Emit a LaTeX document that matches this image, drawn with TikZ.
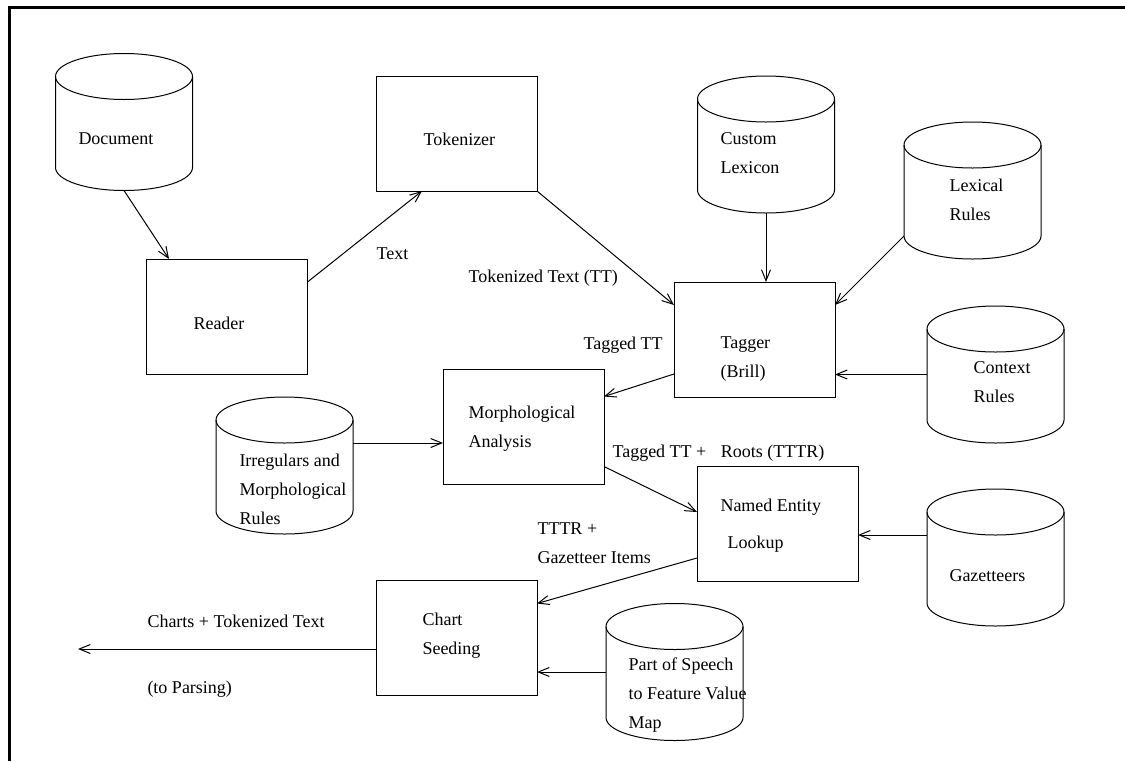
\documentclass[tikz,border=0pt]{standalone}
\usepackage{fontspec}
\setmainfont{Liberation Serif}
\usetikzlibrary{arrows.meta,calc}

\tikzset{
	proc/.style={draw, rectangle, minimum width=80.5pt, minimum height=57.5pt, inner sep=0pt, outer sep=0pt},
	store/.style={rectangle, minimum width=68.5pt, minimum height=68.5pt, inner sep=0pt, outer sep=0pt},
	txt/.style={anchor=west, align=left, inner sep=0pt, font=\fontsize{9}{14.5}\selectfont},
	flow/.style={-{Straight Barb[length=5.5pt,width=4.5pt]}},
}
\newcommand{\drum}[1]{%
	\draw ([yshift=-11.5pt]#1.north west) -- ([yshift=11.5pt]#1.south west)
	arc[start angle=180, end angle=360, x radius=34.25pt, y radius=11.5pt]
	-- ([yshift=-11.5pt]#1.north east);
	\draw ([yshift=-11.5pt]#1.north) ellipse[x radius=34.25pt, y radius=11.5pt];}

\begin{document}
\begin{tikzpicture}[x=0.5pt,y=-0.5pt,line width=0.5pt]
	\useasboundingbox (0,0) rectangle (1125,761);
	\draw[line width=1.6pt] (9.5,761) -- (9.5,7.5) -- (1125,7.5);
	
	\node[store] at (124,122) (doc) {};
	\node[proc] at (227,316.5) (reader) {};
	\node[proc] at (456.5,133.5) (tok) {};
	\node[store] at (766,144.5) (cust) {};
	\node[store] at (972.5,190.5) (lex) {};
	\node[proc] at (754.5,339.5) (tagger) {};
	\node[store] at (995.5,374.5) (ctx) {};
	\node[proc] at (523.5,427) (morph) {};
	\node[store] at (284.5,465.5) (irr) {};
	\node[proc] at (777.5,523.5) (ne) {};
	\node[store] at (995.5,557.5) (gaz) {};
	\node[proc] at (456.5,638) (chart) {};
	\node[store] at (674.5,672) (pos) {};
	\drum{doc} \drum{cust} \drum{lex} \drum{ctx}
	\drum{irr} \drum{gaz} \drum{pos}
	
	\node[txt] at (78,139) (doctxt) {Document};
	\node[txt] at (193,323) (readertxt) {Reader};
	\node[txt] at (423,139) (toktxt) {Tokenizer};
	\node[txt] at (720,153.5) (custtxt) {Custom\\Lexicon};
	\node[txt] at (949,199.5) (lextxt) {Lexical\\Rules};
	\node[txt] at (720,359.5) (taggertxt) {Tagger\\(Brill)};
	\node[txt] at (973,382.5) (ctxtxt) {Context\\Rules};
	\node[txt] at (468,428.5) (morphtxt) {Morphological\\Analysis};
	\node[txt] at (239,489) (irrtxt) {Irregulars and\\Morphological\\Rules};
	\node[txt] at (720,525.5) (netxt) {Named Entity\\[4pt]\hspace*{3.5pt}Lookup};
	\node[txt] at (949,576) (gaztxt) {Gazetteers};
	\node[txt] at (422,635.5) (charttxt) {Chart\\Seeding};
	\node[txt] at (628,695.5) (postxt) {Part of Speech\\to Feature Value\\Map};
	
	\node[txt] at (376,254) (l-text) {Text};
	\node[txt] at (468,278) (l-tt) {Tokenized Text (TT)};
	\node[txt] at (583,345) (l-tagged) {Tagged TT};
	\node[txt] at (612,453) (l-tttr) {Tagged TT +\hspace{0.8em}Roots (TTTR)};
	\node[txt] at (537,543.5) (l-gaz) {TTTR +\\Gazetteer Items};
	\node[txt] at (147,621) (l-charts) {Charts + Tokenized Text};
	\node[txt] at (147,689) (l-parse) {(to Parsing)};
	
	\coordinate (irrport) at ($(irr.north east)+(0,46)$);
	\coordinate (gazport) at ($(gaz.north west)+(0,46)$);
	\coordinate (out) at (78,649);
	
	\draw[flow] (doc.south) -- ($(reader.north)+(-58,0)$);
	\draw[flow] ($(reader.north east)+(0,23)$) -- ($(tok.south)+(-34.5,0)$);
	\draw[flow] (tok.south east) -- ($(tagger.north west)+(0,23)$);
	\draw[flow] (cust.south) -- (cust.south |- tagger.north);
	\draw[flow] ($(lex.south west)+(0,-23)$) -- ($(tagger.north east)+(0,23)$);
	\draw[flow] (ctx.west) -- (ctx.west -| tagger.east);
	\draw[flow] ($(tagger.south west)+(0,-23)$) -- ($(morph.north east)+(0,27)$);
	\draw[flow] (irrport) -- (irrport -| morph.west);
	\draw[flow] ($(morph.south east)+(0,-18)$) -- ($(ne.north west)+(0,46)$);
	\draw[flow] (gazport) -- (gazport -| ne.east);
	\draw[flow] ($(ne.south west)+(0,-23)$) -- ($(chart.north east)+(0,23)$);
	\draw[flow] (pos.west) -- (pos.west -| chart.east);
	\draw[flow] (out -| chart.west) -- (out);
\end{tikzpicture}
\end{document}
